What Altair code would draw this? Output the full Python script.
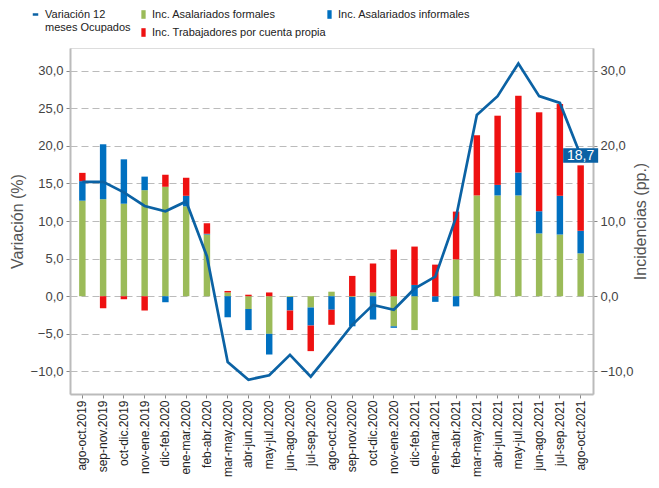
import altair as alt
import pandas as pd

cats = ["ago-oct.2019", "sep-nov.2019", "oct-dic.2019", "nov-ene.2019",
        "dic-feb.2020", "ene-mar.2020", "feb-abr.2020", "mar-may.2020",
        "abr-jun.2020", "may-jul.2020", "jun-ago.2020", "jul-sep.2020",
        "ago-oct.2020", "sep-nov.2020", "oct-dic.2020", "nov-ene.2020",
        "dic-feb.2021", "ene-mar.2021", "feb-abr.2021", "mar-may.2021",
        "abr-jun.2021", "may-jul.2021", "jun-ago.2021", "jul-sep.2021",
        "ago-oct.2021"]
formales = [12.7, 12.9, 12.3, 14.1, 14.55, 11.95, 8.2, 0.5, -1.7, -5.0, -0.1, -1.5,
            0.6, -0.1, 0.5, -4.0, -4.5, 0.0, 4.9, 13.4, 13.4, 13.4, 8.35, 8.2, 5.7]
informales = [2.6, 7.3, 5.9, 1.8, -0.8, 1.4, 0.1, -2.8, -2.8, -2.75, -1.8, -2.4,
              -1.8, -3.9, -3.1, -0.2, 1.5, -0.75, -1.35, 0.0, 1.4, 3.05, 2.95, 5.15, 3.0]
propia = [1.1, -1.6, -0.4, -1.9, 1.6, 2.4, 1.4, 0.2, 0.2, 0.5, -2.6, -3.4,
          -2.0, 2.7, 3.85, 6.2, 5.1, 4.2, 6.35, 8.0, 9.2, 10.2, 13.15, 12.2, 8.7]
variacion = [15.2, 15.2, 13.8, 12.0, 11.3, 12.6, 5.3, -8.75, -11.1, -10.5, -7.8, -10.7,
             -7.3, -3.8, -1.15, -1.8, 1.0, 2.6, 10.5, 24.1, 26.6, 30.95, 26.6, 25.7, 18.7]

comp_names = ["Inc. Asalariados formales", "Inc. Asalariados informales",
              "Inc. Trabajadores por cuenta propia"]
comp_colors = ["#9BBB59", "#0070C0", "#EE1111"]
# legend order (column-major grid): formales, propia | informales
legend_order = [comp_names[0], comp_names[2], comp_names[1]]
legend_colors = [comp_colors[0], comp_colors[2], comp_colors[1]]
line_name = "Variación 12 meses Ocupados"
line_color = "#0B62A4"

rows = []
for i, c in enumerate(cats):
    for k, vals in enumerate([formales, informales, propia]):
        rows.append({"cat": c, "comp": comp_names[k], "val": vals[i], "ord": k})
bars_df = pd.DataFrame(rows)
line_df = pd.DataFrame({"cat": cats, "var": variacion, "serie": line_name})
last_df = line_df.iloc[[-1]].reset_index(drop=True)

FONT = "Liberation Sans"
ydom = [-13, 33]
comma = "replace(format(datum.value, '.1f'), '.', ',')"

xenc = alt.X("cat:N", sort=cats,
             scale=alt.Scale(paddingInner=0.69, paddingOuter=0.44),
             axis=alt.Axis(title=None, labelAngle=270, labelAlign="right",
                           labelBaseline="middle", labelFontSize=12, labelColor="#222",
                           labelFont=FONT, labelPadding=2, bandPosition=0.5,
                           tickColor="#888", tickSize=4, domainColor="#BBBBBB",
                           domainWidth=2))
xsimple = alt.X("cat:N", sort=cats)

ax_common = dict(labelExpr=comma, labelFontSize=13, labelColor="#444", labelFont=FONT,
                 tickColor="#888", tickSize=4, domainColor="#BBBBBB", domainWidth=2,
                 titleFontSize=16, titleFontWeight="normal", titleColor="#555",
                 titleFont=FONT, labelPadding=3)

left_axis = alt.Axis(orient="left", values=list(range(-10, 31, 5)), grid=True,
                     gridDash=[7, 4], gridColor="#BBBBBB", gridWidth=1,
                     title="Variación (%)", titlePadding=5, **ax_common)
yscale = alt.Scale(domain=ydom, nice=False, zero=False)

bars = alt.Chart(bars_df).mark_bar().encode(
    x=xenc,
    y=alt.Y("val:Q", stack="zero", scale=yscale,
            axis=alt.Axis(orient="right", values=[-10, 0, 10, 20, 30], grid=False,
                          title="Incidencias (pp.)", titlePadding=16, titleAngle=270,
                          **ax_common)),
    fill=alt.Fill("comp:N", scale=alt.Scale(domain=legend_order, range=legend_colors),
                  legend=alt.Legend(title=None, orient="none", legendX=68, legendY=-39,
                                    columns=2, gridAlign="none", columnPadding=-2,
                                    rowPadding=6, symbolType="M-0.5,-1H0.5V1H-0.5Z",
                                    symbolSize=74, symbolStrokeWidth=0, symbolOpacity=1,
                                    labelFontSize=11, labelFont=FONT, labelColor="#222",
                                    labelOffset=3, labelLimit=300, padding=0)),
    order=alt.Order("ord:Q"),
)

line = alt.Chart(line_df).mark_line(strokeWidth=2.7).encode(
    x=xsimple,
    y=alt.Y("var:Q", scale=yscale, axis=left_axis),
    stroke=alt.Stroke("serie:N", scale=alt.Scale(domain=[line_name], range=[line_color]),
                      legend=alt.Legend(title=None, orient="none", legendX=-40, legendY=-39,
                                        symbolType="stroke", symbolSize=30,
                                        symbolStrokeWidth=2.5,
                                        labelExpr="['Variación 12', 'meses Ocupados']",
                                        labelFontSize=11, labelFont=FONT, labelColor="#222",
                                        labelOffset=4, labelLimit=300, padding=0)),
)

box = alt.Chart(last_df).mark_point(shape="M-1.2,-0.5H1.2V0.5H-1.2Z", filled=True,
                                    size=851, opacity=1, color=line_color).encode(
    x=xsimple, y=alt.Y("var:Q", scale=yscale, axis=left_axis))

txt = alt.Chart(last_df).transform_calculate(
    lab="replace(format(datum.var, '.1f'), '.', ',')"
).mark_text(color="white", fontSize=14, font=FONT).encode(
    x=xsimple, y=alt.Y("var:Q", scale=yscale, axis=left_axis), text="lab:N")

inner = alt.layer(line, box, txt)
chart = alt.layer(bars, inner).resolve_scale(y="independent").properties(
    width=523, height=346,
    autosize=alt.AutoSizeParams(type="none"),
    padding={"left": 62, "top": 40, "right": 58, "bottom": 86},
).configure_view(stroke=None).configure(font=FONT)

chart.save("out.html", embed_options={"renderer": "svg", "actions": False})
